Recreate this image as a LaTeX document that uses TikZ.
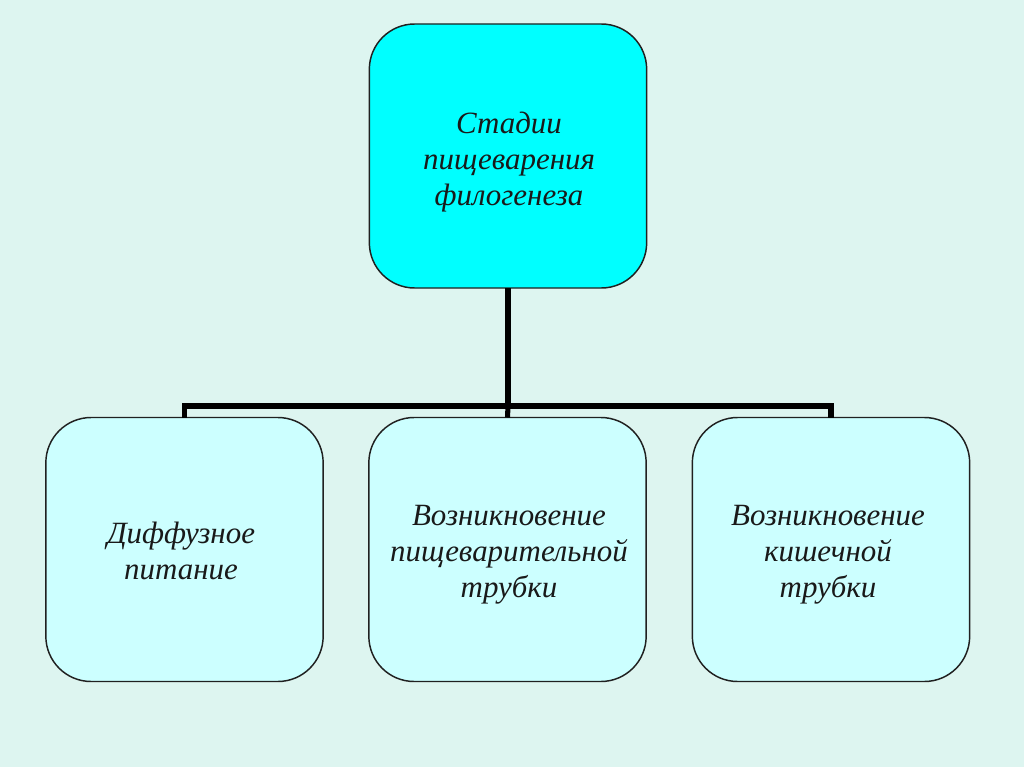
\documentclass[tikz,border=0pt]{standalone}
\usepackage{fontspec}
\setmainfont{Liberation Serif}
\definecolor{bg}{HTML}{DDF5F0}
\definecolor{topfill}{HTML}{00FFFF}
\definecolor{lowfill}{HTML}{CCFFFF}
\definecolor{edge}{HTML}{202020}
\tikzset{
  box/.style={draw=edge, line width=1.1pt, rounded corners=34pt,
    minimum width=208pt, minimum height=198pt, inner sep=0pt, outer sep=0pt},
  topbox/.style={box, fill=topfill},
  lowbox/.style={box, fill=lowfill},
  txt/.style={align=center, inner sep=0pt, text=black!90,
    font=\fontsize{23.2}{27}\selectfont\itshape},
  link/.style={line width=3.8pt, line join=miter, draw=black}
}
\begin{document}
\begin{tikzpicture}[x=0.75pt,y=-0.75pt]
\fill[bg] (0,0) rectangle (1024,767);
\useasboundingbox (0,0) rectangle (1024,767);
\node[topbox] (top) at (508,156) {};
\node[lowbox] (left) at (184.5,549.5) {};
\node[lowbox] (mid) at (507.5,549.5) {};
\node[lowbox] (right) at (831,549.5) {};
\node[txt] (toptext) at (509,162) {Стадии\\пищеварения\\филогенеза};
\node[txt] (lefttext) at (181,551) {Диффузное\\питание};
\node[txt] (midtext) at (509,555) {Возникновение\\пищеварительной\\трубки};
\node[txt] (righttext) at (828,555) {Возникновение\\кишечной\\трубки};
\coordinate (j) at (508,406);
\draw[link] (top.south) -- (j);
\draw[link] (left.north) |- (j) -| (right.north);
\draw[link] (j) -- (mid.north);
\end{tikzpicture}
\end{document}
